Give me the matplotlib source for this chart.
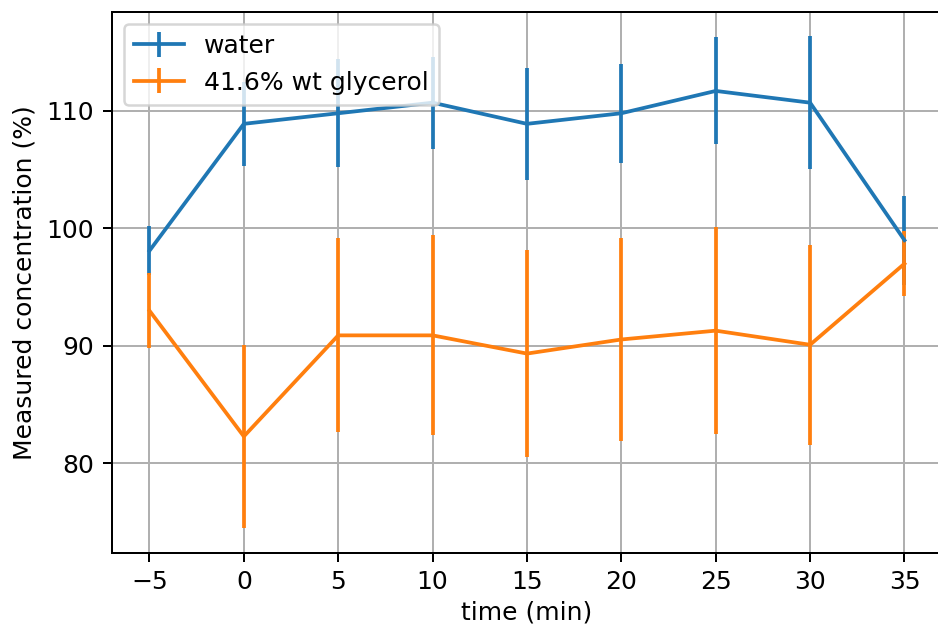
import numpy as np
import matplotlib
matplotlib.use("Agg")
import matplotlib.pyplot as plt

# sampling times (min)
time = [-5, 0, 5, 10, 15, 20, 25, 30, 35]

# measured concentration, mean and std (%)
water_mean = [98.1, 108.9, 109.8, 110.7, 108.9, 109.8, 111.7, 110.7, 99.0]
water_err = [2.1, 3.6, 4.6, 3.9, 4.75, 4.2, 4.55, 5.65, 3.8]

glycerol_mean = [93.0, 82.3, 90.9, 90.9, 89.35, 90.55, 91.3, 90.1, 97.0]
glycerol_err = [3.2, 7.8, 8.25, 8.5, 8.8, 8.6, 8.8, 8.5, 2.75]

DPI = 180
fig = plt.figure(figsize=(938 / DPI, 625 / DPI), dpi=DPI)
ax = fig.add_axes([0.1191, 0.1157, 0.8854, 0.8656])

ax.errorbar(time, water_mean, yerr=water_err, label="water")
ax.errorbar(time, glycerol_mean, yerr=glycerol_err, label="41.6% wt glycerol")

ax.set_xlabel("time (min)", labelpad=2.5)
ax.set_ylabel("Measured concentration (%)")
ax.grid(True)
ax.legend(loc="upper left")

fig.savefig("out.png", dpi=DPI)
